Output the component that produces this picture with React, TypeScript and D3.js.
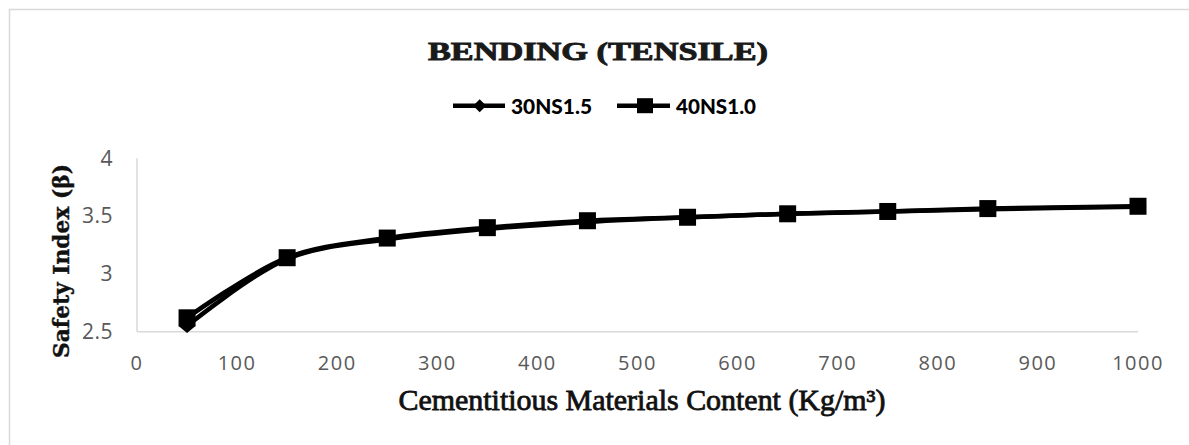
import React from "react";
import * as d3 from "d3";

// Cementitious materials content (kg/m³)
const contents = [50, 150, 250, 350, 450, 550, 650, 750, 850, 1000];
// Safety index β for each mix
const series30NS15 = [2.55, 3.13, 3.3, 3.39, 3.45, 3.49, 3.52, 3.54, 3.56, 3.58];
const series40NS10 = [2.62, 3.14, 3.31, 3.4, 3.46, 3.49, 3.52, 3.54, 3.565, 3.585];
const seriesNames = ["30NS1.5", "40NS1.0"];
const xTicks = [0, 100, 200, 300, 400, 500, 600, 700, 800, 900, 1000];
const yTicks = [2.5, 3, 3.5, 4];

const W = 1189;
const H = 445;

const x = d3.scaleLinear().domain([0, 1000]).range([137, 1138]);
const y = d3.scaleLinear().domain([2.5, 4]).range([331.7, 158.3]);

const line = d3
  .line<number>()
  .x((_, i) => x(contents[i]))
  .y((v) => y(v))
  .curve(d3.curveCatmullRom.alpha(0.5));

const diamond = (cx: number, cy: number, hw: number, hh: number) =>
  `M${cx},${cy - hh}L${cx + hw},${cy}L${cx},${cy + hh}L${cx - hw},${cy}Z`;

export default function App() {
  const tickFont = "'Open Sans', 'DejaVu Sans', sans-serif";
  return (
    <svg
      width={W}
      height={H}
      viewBox={`0 0 ${W} ${H}`}
      style={{ position: "fixed", left: 0, top: 0, background: "#fff" }}
    >
      <rect x={0} y={0} width={W} height={H} fill="#fff" />
      {/* chart frame */}
      <rect x={9.5} y={9.5} width={W + 20} height={H + 20} fill="none" stroke="#d9d9d9" strokeWidth={1.5} />

      {/* title */}
      <text
        x={598}
        y={60}
        textAnchor="middle"
        fontFamily="'Liberation Serif', 'DejaVu Serif', serif"
        fontWeight="bold"
        fontSize={25}
        textLength={340}
        lengthAdjust="spacingAndGlyphs"
        fill="#1a1a1a"
        stroke="#1a1a1a"
        strokeWidth={0.9}
      >
        BENDING (TENSILE)
      </text>

      {/* legend */}
      <g>
        <line x1={453} x2={505} y1={105.7} y2={105.7} stroke="#000" strokeWidth={4.5} />
        <path d={diamond(479.7, 105.7, 6.5, 6.5)} fill="#000" />
        <text
          x={511}
          y={113.5}
          fontFamily="Lato, 'Open Sans', sans-serif"
          fontWeight={900}
          fontSize={21}
          textLength={81}
          lengthAdjust="spacingAndGlyphs"
          fill="#000"
        >
          {seriesNames[0]}
        </text>
        <line x1={617} x2={670} y1={105.7} y2={105.7} stroke="#000" strokeWidth={4.5} />
        <rect x={645 - 8} y={105.7 - 7.5} width={16} height={15} fill="#000" />
        <text
          x={676}
          y={113.5}
          fontFamily="Lato, 'Open Sans', sans-serif"
          fontWeight={900}
          fontSize={21}
          textLength={80}
          lengthAdjust="spacingAndGlyphs"
          fill="#000"
        >
          {seriesNames[1]}
        </text>
      </g>

      {/* axes */}
      <line x1={x(0)} x2={x(0)} y1={y(4)} y2={y(2.5)} stroke="#d9d9d9" strokeWidth={1.5} />
      <line x1={x(0)} x2={x(1000)} y1={y(2.5)} y2={y(2.5)} stroke="#d9d9d9" strokeWidth={1.5} />

      {yTicks.map((t) => (
        <text
          key={t}
          x={113}
          y={y(t)}
          dy="0.35em"
          textAnchor="end"
          fontFamily={tickFont}
          fontSize={21}
          letterSpacing={0.5}
          fill="#595959"
        >
          {String(t)}
        </text>
      ))}
      {xTicks.map((t) => (
        <text
          key={t}
          x={x(t)}
          y={363}
          dy="0.35em"
          textAnchor="middle"
          fontFamily={tickFont}
          fontSize={20}
          letterSpacing={1.5}
          fill="#595959"
        >
          {String(t)}
        </text>
      ))}

      {/* axis titles */}
      <text
        transform="translate(69,261) rotate(-90)"
        textAnchor="middle"
        fontFamily="'DejaVu Serif', 'Liberation Serif', serif"
        fontWeight="bold"
        fontSize={22}
        textLength={194}
        lengthAdjust="spacingAndGlyphs"
        fill="#111"
        stroke="#111"
        strokeWidth={0.4}
      >
        Safety Index (β)
      </text>
      <text
        x={642}
        y={410}
        textAnchor="middle"
        fontFamily="'Liberation Serif', 'DejaVu Serif', serif"
        fontSize={29}
        textLength={487}
        lengthAdjust="spacingAndGlyphs"
        fill="#111"
        stroke="#111"
        strokeWidth={0.8}
      >
        Cementitious Materials Content (Kg/m³)
      </text>

      {/* series 30NS1.5 */}
      <path d={line(series30NS15) ?? ""} fill="none" stroke="#000" strokeWidth={4.5} />
      {series30NS15.map((v, i) => (
        <path key={i} d={diamond(x(contents[i]), y(v), 8.5, 7)} fill="#000" />
      ))}

      {/* series 40NS1.0 */}
      <path d={line(series40NS10) ?? ""} fill="none" stroke="#000" strokeWidth={4.5} />
      {series40NS10.map((v, i) => (
        <rect key={i} x={x(contents[i]) - 8.5} y={y(v) - 8.5} width={17} height={17} fill="#000" />
      ))}
    </svg>
  );
}
